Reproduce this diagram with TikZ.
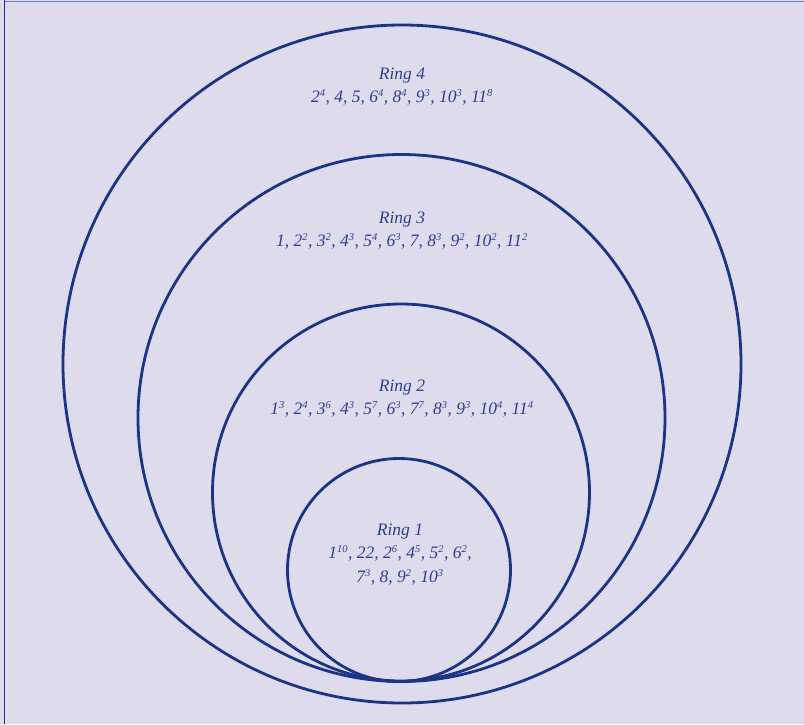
\documentclass[tikz,border=0pt]{standalone}
\usepackage{fontspec}
\setmainfont{Liberation Serif}
\definecolor{bg}{HTML}{DEDCEC}
\definecolor{ringblue}{HTML}{1C3486}
\definecolor{txtblue}{HTML}{2B3F90}
\definecolor{topline}{HTML}{6B7FC0}
\newcommand{\supx}[1]{\textsuperscript{\fontsize{10.5}{10}\selectfont #1}}
\begin{document}
\begin{tikzpicture}[x=1pt,y=-1pt,
  ring/.style={draw=ringblue,line width=2.8pt},
  lbl/.style={text=txtblue,font=\fontsize{17.5}{19}\selectfont\itshape,align=center,inner sep=0pt}]
\fill[bg] (0,0) rectangle (804,724);
\useasboundingbox (0,0) rectangle (804,724);
\draw[topline,line width=1.2pt] (4,1.5) -- (804,1.5);
\draw[ringblue,line width=1.4pt] (4.5,0) -- (4.5,724);
\node[ring,circle,minimum size=678pt,inner sep=0pt] (r4) at (402,364) {};
\node[ring,circle,minimum size=527pt,inner sep=0pt] (r3) at (401.5,418) {};
\node[ring,circle,minimum size=377pt,inner sep=0pt] (r2) at (401,492.5) {};
\node[ring,circle,minimum size=223pt,inner sep=0pt] (r1) at (399,570) {};
\node[lbl] (t4) at (402,87) {Ring 4\\[4pt]2\supx{4}, 4, 5, 6\supx{4}, 8\supx{4}, 9\supx{3}, 10\supx{3}, 11\supx{8}};
\node[lbl] (t3) at (402,231) {Ring 3\\[4pt]1, 2\supx{2}, 3\supx{2}, 4\supx{3}, 5\supx{4}, 6\supx{3}, 7, 8\supx{3}, 9\supx{2}, 10\supx{2}, 11\supx{2}};
\node[lbl] (t2) at (402,399) {Ring 2\\[4pt]1\supx{3}, 2\supx{4}, 3\supx{6}, 4\supx{3}, 5\supx{7}, 6\supx{3}, 7\supx{7}, 8\supx{3}, 9\supx{3}, 10\supx{4}, 11\supx{4}};
\node[lbl] (t1) at (400,555) {Ring 1\\[4pt]1\supx{10}, 22, 2\supx{6}, 4\supx{5}, 5\supx{2}, 6\supx{2},\\[5pt]7\supx{3}, 8, 9\supx{2}, 10\supx{3}};
\end{tikzpicture}
\end{document}
